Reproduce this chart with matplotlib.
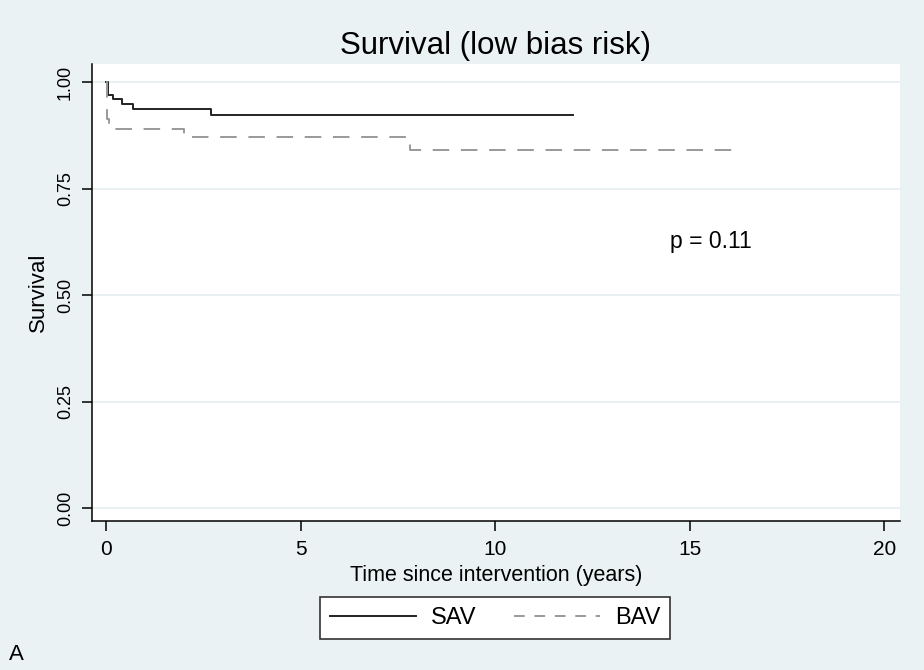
import matplotlib
matplotlib.use("Agg")
import matplotlib.pyplot as plt
from matplotlib.lines import Line2D

plt.rcParams['font.family'] = ['Liberation Sans', 'DejaVu Sans']

# Kaplan-Meier step data
sav_time = [0.0, 0.05, 0.19, 0.42, 0.70, 2.70, 12.0]
sav_surv = [1.0, 0.970, 0.960, 0.950, 0.937, 0.924, 0.924]

bav_time = [0.0, 0.03, 0.08, 0.15, 2.0, 7.8, 16.2]
bav_surv = [1.0, 0.913, 0.90, 0.89, 0.872, 0.840, 0.840]

x_ticks = [0, 5, 10, 15, 20]
y_ticks = [0.0, 0.25, 0.50, 0.75, 1.00]
y_tick_labels = ["0.00", "0.25", "0.50", "0.75", "1.00"]

sav_color = "#222222"
bav_color = "#999999"
bg = "#EAF2F3"

fig = plt.figure(figsize=(9.24, 6.70), dpi=100, facecolor=bg)
ax = fig.add_axes([92/924, 1-521/670, (900-92)/924, (521-64)/670])
ax.set_facecolor("white")

ax.step(sav_time, sav_surv, where="post", color=sav_color, lw=1.4)
ax.step(bav_time, bav_surv, where="post", color=bav_color, lw=1.4,
        linestyle=(0, (8.5, 6.0)))

ax.set_xlim(-0.36, 20.4)
ax.set_ylim(-0.03, 1.043)
ax.set_xticks(x_ticks)
ax.set_yticks(y_ticks)
ax.set_yticklabels(y_tick_labels, rotation=90, va="center")
ax.tick_params(axis="both", direction="out", length=7, width=1.1, colors="black")
ax.tick_params(axis="x", labelsize=15, pad=7)
ax.tick_params(axis="y", labelsize=13, pad=6)
ax.grid(axis="y", color="#E6EEF0", lw=1.2)
ax.set_axisbelow(True)
for s in ["top", "right"]:
    ax.spines[s].set_visible(False)
for s in ["left", "bottom"]:
    ax.spines[s].set_linewidth(1.1)
    ax.spines[s].set_color("black")

ax.set_title("Survival (low bias risk)", fontsize=22.5, pad=7)
ax.set_xlabel("Time since intervention (years)", fontsize=15.5, labelpad=4)
ax.set_ylabel("Survival", fontsize=16, labelpad=6)

ax.text(14.5, 0.627, "p = 0.11", fontsize=16.5, va="center", ha="left")

handles = [Line2D([], [], color=sav_color, lw=1.4),
           Line2D([], [], color=bav_color, lw=1.4, linestyle=(0, (5.5, 5)))]
leg = fig.legend(handles, ["SAV", "BAV"], loc="center",
                 bbox_to_anchor=(495/924, 1-618/670), ncol=2,
                 frameon=True, fancybox=False, fontsize=17, handlelength=3.64,
                 columnspacing=1.6, handletextpad=0.64, borderpad=0.42,
                 borderaxespad=0, framealpha=1.0)
leg.get_frame().set_edgecolor("#333333")
leg.get_frame().set_facecolor("white")
leg.get_frame().set_linewidth(1.2)

fig.text(9/924, 1-655/670, "A", fontsize=16, va="center", ha="left")

fig.savefig("out.png", dpi=100, facecolor=bg)
